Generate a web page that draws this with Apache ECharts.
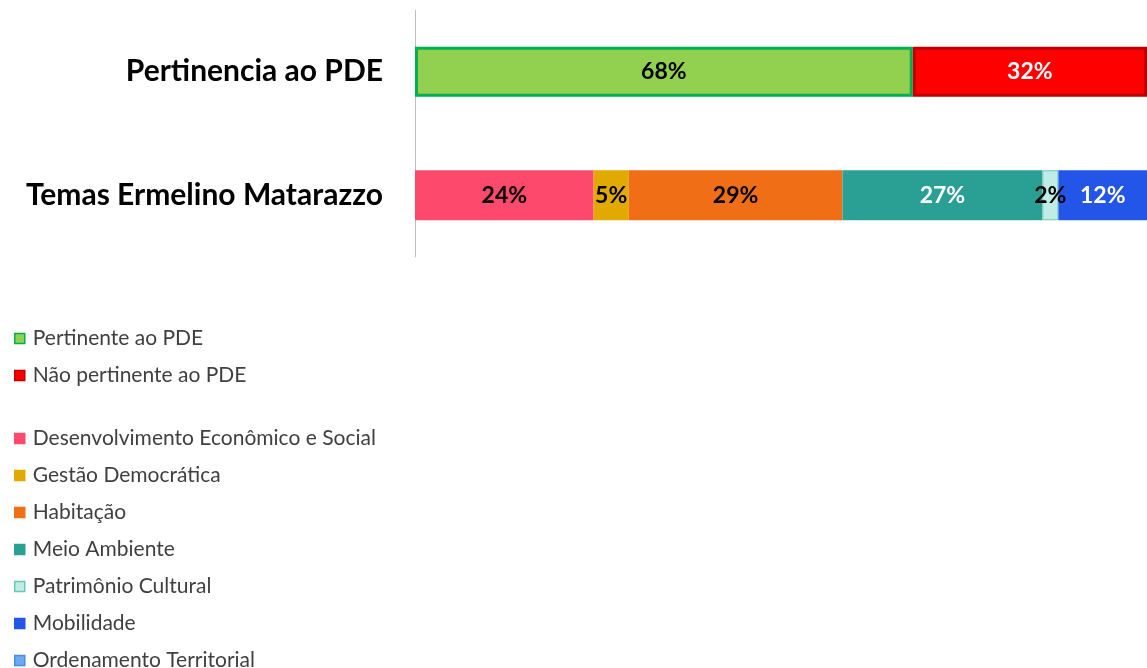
<!DOCTYPE html>
<html>
<head>
<meta charset="utf-8">
<script src="https://cdn.jsdelivr.net/npm/echarts@6/dist/echarts.min.js"></script>
<style>
  html, body { margin: 0; padding: 0; background: #fff; }
  #chart { width: 1147px; height: 668px; }
</style>
</head>
<body>
<div id="chart"></div>
<script>
// categories, top to bottom
var categories = ['Pertinencia ao PDE', 'Temas Ermelino Matarazzo']

// first bar: pertinence
var pdeNames = ['Pertinente ao PDE', 'Não pertinente ao PDE']
var pdeValues = [68, 32]

// second bar: themes (percent)
var themeNames = [
  'Desenvolvimento Econômico e Social',
  'Gestão Democrática',
  'Habitação',
  'Meio Ambiente',
  'Patrimônio Cultural',
  'Mobilidade',
  'Ordenamento Territorial'
]
var themeValues = [24.4, 4.8, 29.2, 27.3, 2.2, 12.1, 0]

var pdeStyles = [
  { color: '#92d050', borderColor: '#00b050', label: '#000' },
  { color: '#ff0000', borderColor: '#c00000', label: '#fff' }
]
var themeStyles = [
  { color: '#fd4a6c', borderColor: '#fd4a6c', label: '#000' },
  { color: '#e2aa00', borderColor: '#e2aa00', label: '#000' },
  { color: '#f06f16', borderColor: '#f06f16', label: '#000' },
  { color: '#2a9f94', borderColor: '#2a9f94', label: '#fff' },
  { color: '#c0ece6', borderColor: '#6cc7bb', label: '#000' },
  { color: '#2356e8', borderColor: '#2356e8', label: '#fff' },
  { color: '#6daaf0', borderColor: '#4a8ee0', label: '#000' }
]

var fontFamily = 'Lato, "Open Sans", sans-serif'

function pct(p) {
  if (!p.value) return ''
  return Math.round(p.value) + '%'
}

function barLabel(color) {
  return {
    show: true,
    formatter: pct,
    color: color,
    fontFamily: fontFamily,
    fontWeight: 'bold',
    fontSize: 23
  }
}

// one stack for everything, each series only has a value on its own row
var series = []
pdeNames.forEach(function (name, i) {
  series.push({
    name: name,
    type: 'bar',
    stack: 'total',
    barWidth: 50,
    data: [pdeValues[i], '-'],
    itemStyle: { color: pdeStyles[i].color, borderColor: pdeStyles[i].borderColor, borderWidth: 3 },
    label: barLabel(pdeStyles[i].label)
  })
})
themeNames.forEach(function (name, i) {
  series.push({
    name: name,
    type: 'bar',
    stack: 'total',
    barWidth: 50,
    data: ['-', themeValues[i]],
    itemStyle: {
      color: themeStyles[i].color,
      borderColor: themeStyles[i].borderColor,
      borderWidth: i === 4 ? 1 : 0
    },
    label: barLabel(themeStyles[i].label)
  })
})

var legendBase = {
  orient: 'vertical',
  left: 9,
  height: 320,
  itemWidth: 10,
  itemHeight: 10,
  itemGap: 16,
  icon: 'rect',
  selectedMode: false,
  itemStyle: { borderWidth: 1.5 },
  textStyle: {
    fontFamily: fontFamily,
    fontSize: 21,
    lineHeight: 20.3,
    color: '#404040',
    padding: [0, 0, 0, 3]
  }
}

var chart = echarts.init(document.getElementById('chart'), null, { renderer: 'canvas' })
chart.setOption({
  animation: false,
  grid: { left: 415, right: 0, top: 10, bottom: 411 },
  xAxis: {
    type: 'value',
    min: 0,
    max: 100,
    show: false
  },
  yAxis: {
    type: 'category',
    inverse: true,
    data: categories,
    axisLine: { lineStyle: { color: '#bfbfbf', width: 1 } },
    axisTick: { show: false },
    axisLabel: {
      margin: 32,
      color: '#000',
      fontFamily: fontFamily,
      fontWeight: 'bold',
      fontSize: 30
    }
  },
  legend: [
    Object.assign({}, legendBase, { top: 323, data: pdeNames }),
    Object.assign({}, legendBase, { top: 423, data: themeNames })
  ],
  series: series
})
</script>
</body>
</html>
